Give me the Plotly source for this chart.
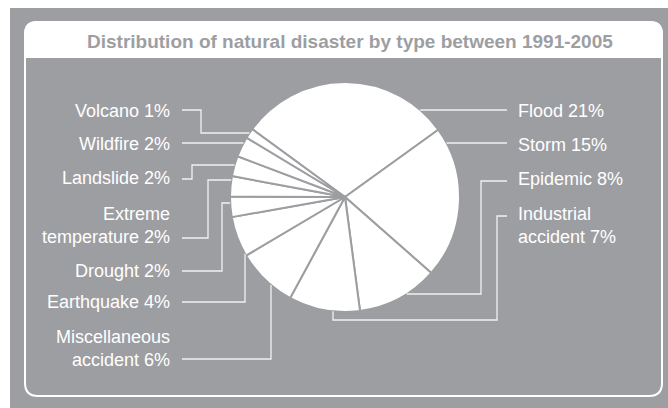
import math
import plotly.graph_objects as go

# ---- data ----
categories = ["Flood", "Storm", "Epidemic", "Industrial<br>accident",
              "Miscellaneous<br>accident", "Earthquake", "Drought",
              "Extreme<br>temperature", "Landslide", "Wildfire", "Volcano"]
percent = [21, 15, 8, 7, 6, 4, 2, 2, 2, 2, 1]
title_text = "Distribution of natural disaster by type between 1991-2005"

# ---- layout constants (pixels) ----
W, H = 668, 408
GREY = "#9d9ea2"
LINE = "#f1f1f1"
CX, CY, R = 345, 197, 115
START_ANGLE = -53.8  # clockwise from 12 o'clock


def X(x):
    return x / W


def Y(y):
    return 1 - y / H


def edge_h(y, side):
    d = math.sqrt(max(R * R - (y - CY) ** 2, 0))
    return CX + d if side == "right" else CX - d


def edge_v(x, side):
    d = math.sqrt(max(R * R - (x - CX) ** 2, 0))
    return CY + d if side == "bottom" else CY - d


fig = go.Figure()
fig.add_trace(go.Pie(
    labels=categories, values=percent, sort=False, direction="clockwise",
    rotation=START_ANGLE, textinfo="none", hoverinfo="label+percent",
    marker=dict(colors=["#ffffff"] * len(percent), line=dict(color=GREY, width=2)),
    domain=dict(x=[X(CX - R), X(CX + R)], y=[Y(CY + R), Y(CY - R)]),
    showlegend=False,
))

shapes = []
# white outer strips (top and left)
shapes.append(dict(type="rect", xref="paper", yref="paper", x0=0, x1=1, y0=Y(8), y1=1,
                   fillcolor="white", line=dict(width=0), layer="below"))
shapes.append(dict(type="rect", xref="paper", yref="paper", x0=0, x1=X(10), y0=0, y1=1,
                   fillcolor="white", line=dict(width=0), layer="below"))


def rounded_path(x0, y0, x1, y1, r, bottom_round=True):
    p = f"M {X(x0)},{Y(y0 + r)} Q {X(x0)},{Y(y0)} {X(x0 + r)},{Y(y0)} "
    p += f"L {X(x1 - r)},{Y(y0)} Q {X(x1)},{Y(y0)} {X(x1)},{Y(y0 + r)} "
    if bottom_round:
        p += f"L {X(x1)},{Y(y1 - r)} Q {X(x1)},{Y(y1)} {X(x1 - r)},{Y(y1)} "
        p += f"L {X(x0 + r)},{Y(y1)} Q {X(x0)},{Y(y1)} {X(x0)},{Y(y1 - r)} Z"
    else:
        p += f"L {X(x1)},{Y(y1)} L {X(x0)},{Y(y1)} Z"
    return p


# header fill
shapes.append(dict(type="path", xref="paper", yref="paper",
                   path=rounded_path(25, 22, 662, 57, 12, bottom_round=False),
                   fillcolor="white", line=dict(color="white", width=2), layer="above"))
# frame outline
shapes.append(dict(type="path", xref="paper", yref="paper",
                   path=rounded_path(25, 22, 662, 396, 13),
                   line=dict(color="white", width=2), layer="above"))

# leader routes (pixels)
routes = {
    "Flood": [(507, 110), (edge_h(110, "right"), 110)],
    "Storm": [(507, 143), (edge_h(143, "right"), 143)],
    "Epidemic": [(507, 181), (481, 181), (481, 294), (edge_h(294, "right"), 294)],
    "Industrial<br>accident": [(507, 216), (497, 216), (497, 320), (333, 320), (333, edge_v(333, "bottom"))],
    "Volcano": [(182, 110), (201, 110), (201, 133), (edge_h(133, "left"), 133)],
    "Wildfire": [(182, 143), (edge_h(143, "left"), 143)],
    "Landslide": [(182, 179), (192, 179), (192, 165), (edge_h(165, "left"), 165)],
    "Extreme<br>temperature": [(182, 238), (208, 238), (208, 180), (edge_h(180, "left"), 180)],
    "Drought": [(182, 271), (222, 271), (222, 203), (edge_h(203, "left"), 203)],
    "Earthquake": [(182, 302), (245, 302), (245, edge_v(245, "bottom"))],
    "Miscellaneous<br>accident": [(182, 359), (271, 359), (271, edge_v(271, "bottom"))],
}
label_pos = {
    "Flood": ("right", 111), "Storm": ("right", 145), "Epidemic": ("right", 179),
    "Industrial<br>accident": ("right", 225),
    "Volcano": ("left", 111), "Wildfire": ("left", 144), "Landslide": ("left", 178),
    "Extreme<br>temperature": ("left", 225), "Drought": ("left", 271),
    "Earthquake": ("left", 302), "Miscellaneous<br>accident": ("left", 348),
}

for name, pts in routes.items():
    path = "M " + " L ".join(f"{X(a)},{Y(b)}" for a, b in pts)
    shapes.append(dict(type="path", xref="paper", yref="paper", path=path,
                       line=dict(color=LINE, width=1.3), layer="above"))

annotations = [dict(text=f"<b>{title_text}</b>", x=X(350), y=Y(41.5), xref="paper", yref="paper",
                    showarrow=False, xanchor="center", yanchor="middle",
                    font=dict(family="Liberation Sans, Arial", size=19, color=GREY))]
for name, val in zip(categories, percent):
    side, yy = label_pos[name]
    annotations.append(dict(
        text=f"{name} {val}%", xref="paper", yref="paper", showarrow=False,
        x=X(516) if side == "right" else X(172), y=Y(yy),
        xanchor="left" if side == "right" else "right", yanchor="middle",
        align="left" if side == "right" else "right",
        font=dict(family="Liberation Sans, Arial", size=18, color="white"),
    ))

fig.update_layout(width=W, height=H, margin=dict(l=0, r=0, t=0, b=0),
                  paper_bgcolor=GREY, plot_bgcolor=GREY,
                  shapes=shapes, annotations=annotations)
fig.write_html("out.html")
